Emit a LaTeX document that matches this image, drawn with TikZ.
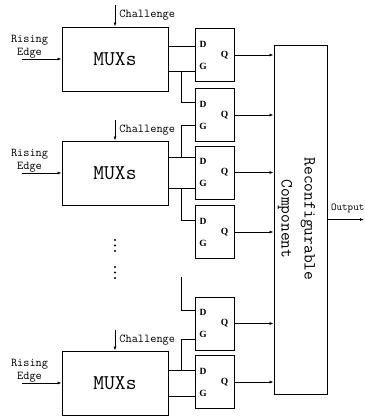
\documentclass[tikz,border=0pt]{standalone}
\usepackage{fontspec}
\newfontfamily\portfont{Liberation Serif}
\usetikzlibrary{arrows.meta,calc}

\tikzset{
  wire/.style={line width=0.9pt},
  arr/.style={wire, -{Latex[length=4pt,width=3pt]}},
  mux/.style={draw, wire, minimum width=106pt, minimum height=64pt, inner sep=0pt,
    font=\ttfamily\fontsize{21}{21}\selectfont},
  latch/.style={draw, wire, minimum width=39pt, minimum height=53pt, inner sep=0pt},
  port/.style={inner sep=0pt, font=\portfont\bfseries\fontsize{9.5}{9.5}\selectfont},
  sig/.style={inner sep=0pt, font=\ttfamily\fontsize{12}{13}\selectfont},
}

\begin{document}
\begin{tikzpicture}[x=1pt,y=-1pt]
        \useasboundingbox (0,0) rectangle (365,416);
        % MUX blocks
        \node[mux] (mux1) at (115,59) {MUXs};
        \node[mux] (mux2) at (115,173) {MUXs};
        \node[mux] (mux3) at (115,383) {MUXs};
        % latches
        \node[latch] (l1) at (214.5,55) {};
        \node[latch] (l2) at (214.5,115) {};
        \node[latch] (l3) at (214.5,172.5) {};
        \node[latch] (l4) at (214.5,232) {};
        \node[latch] (l5) at (214.5,323.5) {};
        \node[latch] (l6) at (214.5,382) {};
        \foreach \i in {1,...,6} {
            \node[port] at ($(l\i.west)+(8.5,-11)$) {D};
            \node[port] at ($(l\i.west)+(8.5,11)$) {G};
            \node[port] at ($(l\i.east)+(-10,0)$) {Q};
        }
        % reconfigurable component
        \node[draw, wire, minimum width=53pt, minimum height=349pt, inner sep=0pt] (rc) at (300.5,219.5) {};
        \node[rotate=-90, align=center, inner sep=0pt, font=\ttfamily\fontsize{17}{23}\selectfont] (rctext) at (296.5,219) {Reconfigurable\\Component};
        % MUX outputs and branch column
        \coordinate (m1a) at ($(mux1.north east)+(0,20)$);
        \coordinate (m1b) at ($(mux1.north east)+(0,45)$);
        \coordinate (m2a) at ($(mux2.north east)+(0,17)$);
        \coordinate (m2b) at ($(mux2.north east)+(0,48)$);
        \coordinate (m3a) at ($(mux3.north east)+(0,20)$);
        \coordinate (m3b) at ($(mux3.north east)+(0,46)$);
        \coordinate (bx) at ($(mux1.east)!0.5!(l1.west)$);
        \coordinate (b5) at ($(bx |- l5.north)+(0,-20)$);
        \draw[wire] (m1a) -- (m1a -| l1.west);
        \draw[wire] (m1b) -- (m1b -| l1.west);
        \draw[wire] (m1b -| bx) |- ($(l2.west)+(0,-13)$);
        \draw[wire] (m2a -| bx) |- ($(l2.west)+(0,10)$);
        \draw[wire] (m2a) -- (m2a -| l3.west);
        \draw[wire] (m2b) -- (m2b -| l3.west);
        \draw[wire] (m2b -| bx) |- ($(l4.west)+(0,-12)$);
        \draw[wire] (b5) |- ($(l5.west)+(0,-13.5)$);
        \draw[wire] (m3a -| bx) |- ($(l5.west)+(0,15.5)$);
        \draw[wire] (m3a) -- (m3a -| l6.west);
        \draw[wire] (m3b) -- (m3b -| l6.west);
        % Q outputs
        \foreach \i in {1,...,6}
            \draw[arr] (l\i.east) -- (l\i.east -| rc.west);
        \coordinate (out) at (364,219.5);
        \draw[arr] (rc.east) -- (out);
        \node[sig, font=\ttfamily\fontsize{10.5}{13}\selectfont, anchor=west] (outlbl) at (331,208) {Output};
        % challenge inputs
        \coordinate (c1) at ($(mux1.north)+(0,-22)$);
        \coordinate (c2) at ($(mux2.north)+(0,-21)$);
        \coordinate (c3) at ($(mux3.north)+(0,-21)$);
        \draw[arr] (c1) -- node[sig, right=4pt] {Challenge} (mux1.north);
        \draw[arr] (c2) -- node[sig, right=4pt] {Challenge} (mux2.north);
        \draw[arr] (c3) -- node[sig, right=4pt] {Challenge} (mux3.north);
        % rising edge inputs
        \coordinate (r1) at ($(mux1.west)+(-40,0)$);
        \coordinate (r2) at ($(mux2.west)+(-40,0)$);
        \coordinate (r3) at ($(mux3.west)+(-40,0)$);
        \draw[arr] (r1) -- (mux1.west);
        \draw[arr] (r2) -- (mux2.west);
        \draw[arr] (r3) -- (mux3.west);
        \node[sig, align=center] (e1) at ($(r1)+(8,-12.5)$) {Rising\\Edge};
        \node[sig, align=center] (e2) at ($(r2)+(8,-12.5)$) {Rising\\Edge};
        \node[sig, align=center] (e3) at ($(r3)+(8,-12.5)$) {Rising\\Edge};
        % dots
        \foreach \y in {240,245.5,251,267,272.5,278}
            \fill (115,\y) circle (1.2pt);
\end{tikzpicture}
\end{document}
